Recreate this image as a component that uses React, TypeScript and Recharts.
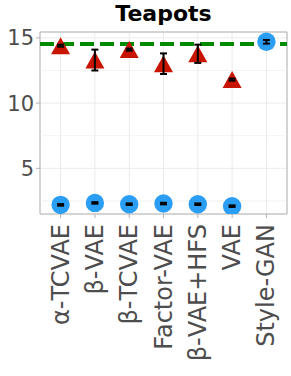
import React from "react";
import {
  ComposedChart,
  Scatter,
  XAxis,
  YAxis,
  CartesianGrid,
  ReferenceLine,
  ReferenceArea,
  ErrorBar,
} from "recharts";

const methods = [
  "α-TCVAE",
  "β-VAE",
  "β-TCVAE",
  "Factor-VAE",
  "β-VAE+HFS",
  "VAE",
  "Style-GAN",
];
const triangleScores = [14.4, 13.3, 14.1, 13.02, 13.78, 11.8, null];
const triangleErrors = [0.08, 0.8, 0.08, 0.79, 0.7, 0.08, null];
const circleScores = [2.2, 2.35, 2.25, 2.3, 2.25, 2.1, 14.7];
const circleErrors = [0.06, 0.06, 0.06, 0.06, 0.06, 0.06, 0.14];
const referenceScore = 14.53;
const yTicks = [5, 10, 15];
const minorTicks = [2.5, 7.5, 12.5];

const triangleData = methods
  .map((m, i) => ({ x: i + 1, y: triangleScores[i], err: triangleErrors[i] }))
  .filter((d) => d.y !== null);
const circleData = methods.map((m, i) => ({
  x: i + 1,
  y: circleScores[i],
  err: circleErrors[i],
}));

const RED = "#c81400";
const BLUE = "#2a9df4";
const GRID = "#ebebeb";
const BORDER = "#b3b3b3";
const TEXT = "#4d4d4d";

const Triangle = (props: any) => {
  const { cx, cy } = props;
  return (
    <path
      d={`M${cx},${cy - 8.5} L${cx + 9.5},${cy + 8.5} L${cx - 9.5},${cy + 8.5} Z`}
      fill={RED}
    />
  );
};

const Circle = (props: any) => {
  const { cx, cy } = props;
  return <circle cx={cx} cy={cy} r={9.2} fill={BLUE} />;
};

const Nothing = () => <g />;

const XTick = (props: any) => {
  const { x, y, payload } = props;
  return (
    <text
      x={x}
      y={y + 4}
      transform={`rotate(-90, ${x}, ${y + 4})`}
      textAnchor="end"
      dominantBaseline="central"
      fill={TEXT}
      fontSize={24}
    >
      {methods[payload.value - 1]}
    </text>
  );
};

export default function App() {
  return (
    <div
      style={{
        position: "absolute",
        left: 0,
        top: 0,
        width: 291,
        height: 376,
        fontFamily: "DejaVu Sans",
        background: "#fff",
      }}
    >
      <div
        style={{
          position: "absolute",
          left: 40,
          width: 247,
          top: 0,
          textAlign: "center",
          fontWeight: "bold",
          fontSize: 22,
          lineHeight: "28px",
          color: "#000",
        }}
      >
        Teapots
      </div>
      <ComposedChart
        width={291}
        height={376}
        margin={{ top: 32, right: 4, bottom: 0, left: 0 }}
      >
        <CartesianGrid stroke={GRID} strokeWidth={1} />
        {minorTicks.map((t) => (
          <ReferenceLine key={t} y={t} stroke={GRID} strokeWidth={0.6} />
        ))}
        <XAxis
          type="number"
          dataKey="x"
          domain={[0.4, 7.6]}
          ticks={[1, 2, 3, 4, 5, 6, 7]}
          allowDataOverflow
          axisLine={false}
          tickLine={{ stroke: BORDER }}
          tickSize={4}
          tick={<XTick />}
          height={162}
          interval={0}
        />
        <YAxis
          type="number"
          dataKey="y"
          domain={[1.5, 15.45]}
          ticks={yTicks}
          allowDataOverflow
          axisLine={false}
          tickLine={{ stroke: BORDER }}
          tickSize={4}
          tickMargin={2}
          width={40}
          tick={{ fill: TEXT, fontSize: 21 }}
        />
        <ReferenceArea
          x1={0.4}
          x2={7.6}
          y1={1.5}
          y2={15.45}
          fill="none"
          stroke={BORDER}
          strokeWidth={1}
        />
        <ReferenceLine
          y={referenceScore}
          stroke="#008a00"
          strokeWidth={4}
          strokeDasharray="14 6"
        />
        <Scatter data={triangleData} shape={<Triangle />} isAnimationActive={false} />
        <Scatter data={circleData} shape={<Circle />} isAnimationActive={false} />
        <Scatter data={triangleData} shape={<Nothing />} isAnimationActive={false} zIndex={1000}>
          <ErrorBar dataKey="err" direction="y" width={3.5} stroke="#000" strokeWidth={2} zIndex={1000} />
        </Scatter>
        <Scatter data={circleData} shape={<Nothing />} isAnimationActive={false} zIndex={1000}>
          <ErrorBar dataKey="err" direction="y" width={3.5} stroke="#000" strokeWidth={2} zIndex={1000} />
        </Scatter>
      </ComposedChart>
    </div>
  );
}
